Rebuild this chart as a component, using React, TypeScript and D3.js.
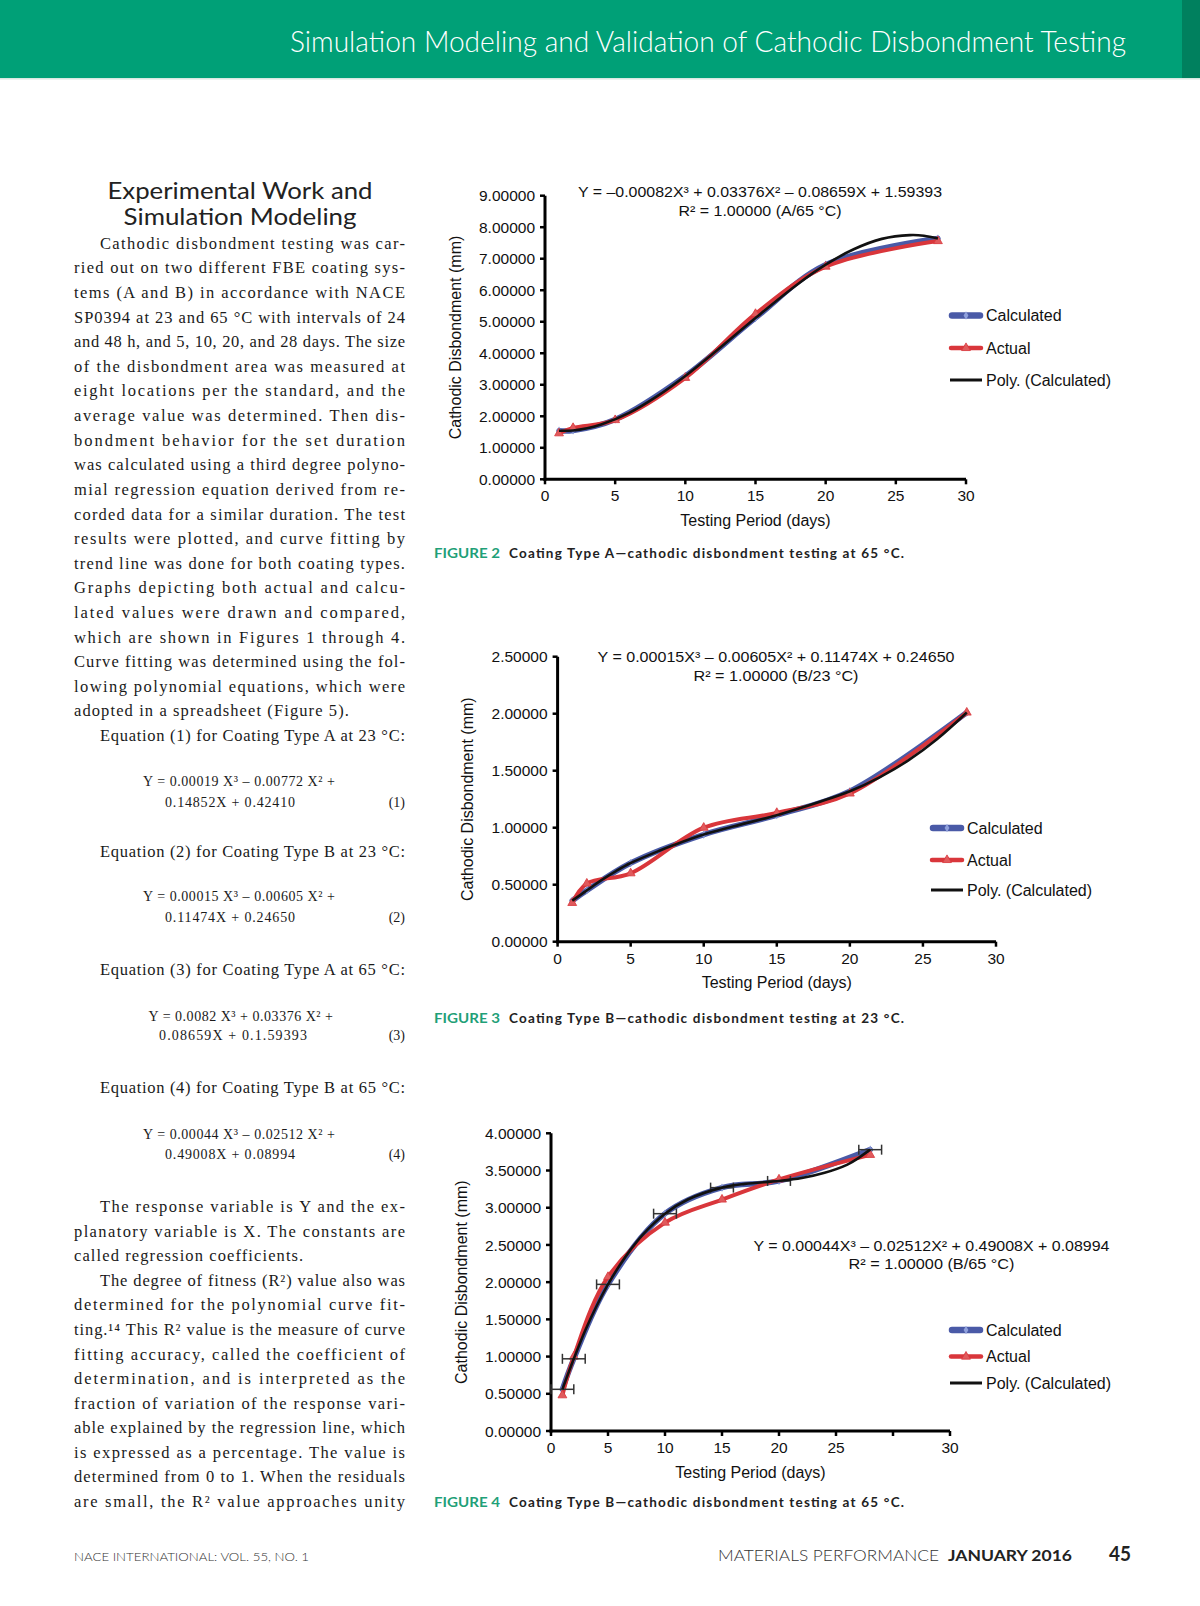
import React from "react";
import * as d3 from "d3";

// sampling days of the test (shared by all figures)
const days = [1, 2, 5, 10, 15, 20, 28];

// Figure 2 - coating A at 65 °C
const calcA65 = [1.54, 1.55, 1.9, 3.28, 5.12, 6.81, 7.64];
const actualA65 = [1.46, 1.63, 1.88, 3.22, 5.25, 6.75, 7.56];
const polyDaysA65 = [1, 2, 3, 4, 6, 8, 10, 12, 15, 18, 20, 22, 24, 26, 27, 28];
const polyA65 = [1.54, 1.55, 1.62, 1.74, 2.11, 2.64, 3.28, 4.0, 5.12, 6.19, 6.81, 7.3, 7.63, 7.75, 7.73, 7.64];
const yTicksA65 = [0, 1, 2, 3, 4, 5, 6, 7, 8, 9];

// Figure 3 - coating B at 23 °C
const calcB23 = [0.36, 0.45, 0.69, 0.94, 1.11, 1.32, 2.01];
const actualB23 = [0.34, 0.51, 0.6, 1.0, 1.13, 1.3, 2.01];
const polyDaysB23 = [1, 2, 3, 4, 5, 7, 8, 10, 12, 15, 18, 20, 22, 24, 26, 28];
const polyB23 = [0.36, 0.45, 0.54, 0.62, 0.69, 0.8, 0.85, 0.94, 1.01, 1.11, 1.23, 1.32, 1.44, 1.59, 1.78, 2.01];
const yTicksB23 = [0, 0.5, 1, 1.5, 2, 2.5];

// Figure 4 - coating B at 65 °C
const calcB65 = [0.56, 0.97, 1.97, 2.92, 3.27, 3.36, 3.78];
const actualB65 = [0.48, 1.0, 2.07, 2.8, 3.11, 3.38, 3.71];
const errB65 = [1, 1, 1, 1, 1, 1, 1];
const polyDaysB65 = [1, 2, 3, 4, 5, 6, 7, 8, 10, 12, 15, 17, 20, 22, 24, 26, 27, 28];
const polyB65 = [0.56, 0.97, 1.35, 1.68, 1.97, 2.22, 2.44, 2.63, 2.92, 3.11, 3.27, 3.32, 3.36, 3.4, 3.47, 3.58, 3.67, 3.78];
const yTicksB65 = [0, 0.5, 1, 1.5, 2, 2.5, 3, 3.5, 4];

const xTicks30 = [0, 5, 10, 15, 20, 25, 30];
const xLabels30 = ["0", "5", "10", "15", "20", "25", "30"];
const xTicks35 = [0, 5, 10, 15, 20, 25, 30, 35];
const xLabels35 = ["0", "5", "10", "15", "20", "25", "", "30"];

const legendLabels = ["Calculated", "Actual", "Poly. (Calculated)"];

const para1 = [
  "Cathodic disbondment testing was car-",
  "ried out on two different FBE coating sys-",
  "tems (A and B) in accordance with NACE",
  "SP0394 at 23 and 65 °C with intervals of 24",
  "and 48 h, and 5, 10, 20, and 28 days. The size",
  "of the disbondment area was measured at",
  "eight locations per the standard, and the",
  "average value was determined. Then dis-",
  "bondment behavior for the set duration",
  "was calculated using a third degree polyno-",
  "mial regression equation derived from re-",
  "corded data for a similar duration. The test",
  "results were plotted, and curve fitting by",
  "trend line was done for both coating types.",
  "Graphs depicting both actual and calcu-",
  "lated values were drawn and compared,",
  "which are shown in Figures 1 through 4.",
  "Curve fitting was determined using the fol-",
  "lowing polynomial equations, which were",
  "adopted in a spreadsheet (Figure 5).",
];

const equations = [
  { head: "Equation (1) for Coating Type A at 23 °C:", l1: "Y = 0.00019 X³ – 0.00772 X² +", l2: "0.14852X + 0.42410", n: "(1)" },
  { head: "Equation (2) for Coating Type B at 23 °C:", l1: "Y = 0.00015 X³ – 0.00605 X² +", l2: "0.11474X + 0.24650", n: "(2)" },
  { head: "Equation (3) for Coating Type A at 65 °C:", l1: "Y = 0.0082 X³ + 0.03376 X² +", l2: "0.08659X + 0.1.59393", n: "(3)" },
  { head: "Equation (4) for Coating Type B at 65 °C:", l1: "Y = 0.00044 X³ – 0.02512 X² +", l2: "0.49008X + 0.08994", n: "(4)" },
];

const para2 = [
  "The response variable is Y and the ex-",
  "planatory variable is X. The constants are",
  "called regression coefficients.",
  "The degree of fitness (R²) value also was",
  "determined for the polynomial curve fit-",
  "ting.¹⁴ This R² value is the measure of curve",
  "fitting accuracy, called the coefficient of",
  "determination, and is interpreted as the",
  "fraction of variation of the response vari-",
  "able explained by the regression line, which",
  "is expressed as a percentage. The value is",
  "determined from 0 to 1. When the residuals",
  "are small, the R² value approaches unity",
];
const para2Indent = [0, 3];
const para2Ragged = [2];

const sans = "'Liberation Sans', Arial, Helvetica, sans-serif";
const serif = "'Liberation Serif', 'Times New Roman', serif";
const lato = "Lato, 'Open Sans', sans-serif";
const blue = "#4a5aa7";
const red = "#d9363b";
const green = "#1fa078";

type ChartCfg = {
  left: number; right: number; top: number; bottom: number;
  xMax: number; yMax: number;
  xTicks: number[]; xLabels: string[]; yTicks: number[];
  calc: number[]; actual: number[]; polyDays: number[]; poly: number[];
  err?: number[];
  eq: string[]; eqX: number; eqY: number; eqW: number[];
  legX: number; legY: number[];
  fig: string; caption: string; capY: number;
};

function Chart({ c }: { c: ChartCfg }) {
  const x = d3.scaleLinear().domain([0, c.xMax]).range([c.left, c.right]);
  const y = d3.scaleLinear().domain([0, c.yMax]).range([c.bottom, c.top]);
  const line = d3
    .line<number[]>()
    .x((d) => x(d[0]))
    .y((d) => y(d[1]))
    .curve(d3.curveCatmullRom.alpha(0.5));
  const calc = days.map((d, i) => [d, c.calc[i]]);
  const act = days.map((d, i) => [d, c.actual[i]]);
  const poly = c.polyDays.map((d, i) => [d, c.poly[i]]);
  const diamond = d3.symbol(d3.symbolDiamond, 20)() || "";
  const tri = d3.symbol(d3.symbolTriangle, 34)() || "";
  const fmt = d3.format(".5f");

  return (
    <g>
      {/* axes */}
      <line x1={c.left} x2={c.left} y1={c.top} y2={c.bottom + 1.5} stroke="#000" strokeWidth={3} />
      <line x1={c.left - 1.5} x2={c.right} y1={c.bottom} y2={c.bottom} stroke="#000" strokeWidth={3} />
      {c.yTicks.map((t) => (
        <g key={"y" + t}>
          <line x1={c.left - 5} x2={c.left} y1={y(t)} y2={y(t)} stroke="#000" strokeWidth={2.5} />
          <text x={c.left - 10} y={y(t)} dy="0.36em" textAnchor="end" fontSize={15.5} fontFamily={sans} fill="#111">
            {fmt(t)}
          </text>
        </g>
      ))}
      {c.xTicks.map((t, i) => (
        <g key={"x" + t}>
          <line x1={x(t)} x2={x(t)} y1={c.bottom} y2={c.bottom + 5} stroke="#000" strokeWidth={2.5} />
          <text x={x(t)} y={c.bottom + 22} textAnchor="middle" fontSize={15.5} fontFamily={sans} fill="#111">
            {c.xLabels[i]}
          </text>
        </g>
      ))}
      <text x={(c.left + c.right) / 2} y={c.bottom + 46.5} textAnchor="middle" fontSize={16} fontFamily={sans} fill="#111">
        Testing Period (days)
      </text>
      <text
        transform={`translate(${c.left - 84.5},${(c.top + c.bottom) / 2}) rotate(-90)`}
        textAnchor="middle"
        fontSize={16}
        fontFamily={sans}
        fill="#111"
      >
        Cathodic Disbondment (mm)
      </text>

      {/* series */}
      <path d={line(calc) || ""} fill="none" stroke={blue} strokeWidth={5.5} strokeLinecap="round" />
      {calc.map((p, i) => (
        <path key={"c" + i} d={diamond} transform={`translate(${x(p[0])},${y(p[1])})`} fill="#7d8fd0" />
      ))}
      <path d={line(act) || ""} fill="none" stroke={red} strokeWidth={4} strokeLinecap="round" />
      {act.map((p, i) => (
        <path key={"a" + i} d={tri} transform={`translate(${x(p[0])},${y(p[1])})`} fill="#e05a5c" stroke={red} strokeWidth={0.8} />
      ))}
      {c.err &&
        calc.map((p, i) => {
          const e = c.err![i];
          const yy = y(p[1]);
          return (
            <g key={"e" + i} stroke="#333" strokeWidth={1.5}>
              <line x1={x(p[0] - e)} x2={x(p[0] + e)} y1={yy} y2={yy} />
              <line x1={x(p[0] - e)} x2={x(p[0] - e)} y1={yy - 5} y2={yy + 5} />
              <line x1={x(p[0] + e)} x2={x(p[0] + e)} y1={yy - 5} y2={yy + 5} />
            </g>
          );
        })}
      <path d={line(poly) || ""} fill="none" stroke="#111" strokeWidth={2.6} />

      {/* trend equation */}
      {c.eq.map((s, i) => (
        <text
          key={"eq" + i}
          x={c.eqX}
          y={c.eqY + i * 18.5}
          textAnchor="middle"
          fontSize={15}
          fontFamily={sans}
          fill="#111"
          textLength={c.eqW[i]}
          lengthAdjust="spacingAndGlyphs"
        >
          {s}
        </text>
      ))}

      {/* legend */}
      {legendLabels.map((lab, i) => {
        const ly = c.legY[i];
        return (
          <g key={"l" + i}>
            {i === 0 && (
              <g>
                <line x1={c.legX + 3} x2={c.legX + 31} y1={ly} y2={ly} stroke={blue} strokeWidth={6.5} strokeLinecap="round" />
                <path d={diamond} transform={`translate(${c.legX + 17},${ly})`} fill="#8fa0dc" />
              </g>
            )}
            {i === 1 && (
              <g>
                <line x1={c.legX + 2} x2={c.legX + 32} y1={ly} y2={ly} stroke={red} strokeWidth={4.5} strokeLinecap="round" />
                <path d={tri} transform={`translate(${c.legX + 17},${ly})`} fill="#e05a5c" stroke={red} strokeWidth={0.8} />
              </g>
            )}
            {i === 2 && <line x1={c.legX + 1} x2={c.legX + 33} y1={ly} y2={ly} stroke="#111" strokeWidth={3} />}
            <text x={c.legX + 37} y={ly + 5.5} fontSize={16} fontFamily={sans} fill="#111">
              {lab}
            </text>
          </g>
        );
      })}

      {/* caption */}
      <text x={434} y={c.capY} fontSize={13.5} fontWeight={700} fontFamily={lato} fill={green} textLength={66} lengthAdjust="spacingAndGlyphs">
        {c.fig}
      </text>
      <text x={509} y={c.capY} fontSize={13.5} fontWeight={700} fontFamily={lato} fill="#222" textLength={395} lengthAdjust="spacing">
        {c.caption}
      </text>
    </g>
  );
}

const fig2: ChartCfg = {
  left: 545, right: 966, top: 195.7, bottom: 479.3, xMax: 30, yMax: 9,
  xTicks: xTicks30, xLabels: xLabels30, yTicks: yTicksA65,
  calc: calcA65, actual: actualA65, polyDays: polyDaysA65, poly: polyA65,
  eq: ["Y = –0.00082X³ + 0.03376X² – 0.08659X + 1.59393", "R² = 1.00000 (A/65 °C)"],
  eqX: 760, eqY: 197, eqW: [364, 163],
  legX: 949, legY: [315.5, 348, 380],
  fig: "FIGURE 2", caption: "Coating Type A—cathodic disbondment testing at 65 °C.", capY: 558,
};

const fig3: ChartCfg = {
  left: 557.6, right: 996, top: 656.7, bottom: 941.7, xMax: 30, yMax: 2.5,
  xTicks: xTicks30, xLabels: xLabels30, yTicks: yTicksB23,
  calc: calcB23, actual: actualB23, polyDays: polyDaysB23, poly: polyB23,
  eq: ["Y = 0.00015X³ – 0.00605X² + 0.11474X + 0.24650", "R² = 1.00000 (B/23 °C)"],
  eqX: 776, eqY: 662, eqW: [357, 165],
  legX: 930, legY: [828, 860, 890],
  fig: "FIGURE 3", caption: "Coating Type B—cathodic disbondment testing at 23 °C.", capY: 1023,
};

const fig4: ChartCfg = {
  left: 551, right: 950, top: 1133.3, bottom: 1431, xMax: 35, yMax: 4,
  xTicks: xTicks35, xLabels: xLabels35, yTicks: yTicksB65,
  calc: calcB65, actual: actualB65, polyDays: polyDaysB65, poly: polyB65, err: errB65,
  eq: ["Y = 0.00044X³ – 0.02512X² + 0.49008X + 0.08994", "R² = 1.00000 (B/65 °C)"],
  eqX: 931.5, eqY: 1250.5, eqW: [356, 166],
  legX: 949, legY: [1330, 1356.6, 1383],
  fig: "FIGURE 4", caption: "Coating Type B—cathodic disbondment testing at 65 °C.", capY: 1507,
};

const COL_L = 74;
const COL_R = 405;
const INDENT = 100;

function BodyLine({ text, y, indent, justify }: { text: string; y: number; indent: boolean; justify: boolean }) {
  const x0 = indent ? INDENT : COL_L;
  return (
    <text
      x={x0}
      y={y}
      fontSize={16.5}
      fontFamily={serif}
      fill="#1a1a1a"
      letterSpacing={justify ? undefined : 1.1}
      textLength={justify ? COL_R - x0 : undefined}
      lengthAdjust="spacing"
    >
      {text}
    </text>
  );
}

export default function App() {
  const lh = 24.62;
  const eqHeadY = [857, 974.6, 1093.4];
  const eqY = [
    [786, 807],
    [901, 922],
    [1020.7, 1040],
    [1138.5, 1159],
  ];
  const eqX = [
    [143, 335, 165, 295],
    [143, 335, 165, 295],
    [148.5, 333, 159, 307],
    [143, 335, 165, 295],
  ];
  return (
    <div style={{ position: "absolute", left: 0, top: 0 }}>
      <svg width={1200} height={1606} viewBox="0 0 1200 1606" style={{ display: "block", background: "#fff" }}>
        {/* header band */}
        <rect x={0} y={0} width={1200} height={78} fill="#00a077" />
        <rect x={1182} y={0} width={18} height={78} fill="#00805e" />
        <rect x={0} y={78} width={1200} height={1.5} fill="#d8e8e2" />
        <text x={290} y={52} fontSize={29} fontWeight={300} fontFamily={lato} fill="#fff" textLength={836} lengthAdjust="spacingAndGlyphs">
          Simulation Modeling and Validation of Cathodic Disbondment Testing
        </text>

        {/* left column */}
        <text x={240} y={198.5} textAnchor="middle" fontSize={23} fontFamily={lato} fill="#222" textLength={265} lengthAdjust="spacingAndGlyphs">
          Experimental Work and
        </text>
        <text x={240} y={224.5} textAnchor="middle" fontSize={23} fontFamily={lato} fill="#222" textLength={233} lengthAdjust="spacingAndGlyphs">
          Simulation Modeling
        </text>
        {para1.map((s, i) => (
          <BodyLine key={"p1" + i} text={s} y={248.7 + i * lh} indent={i === 0} justify={i !== para1.length - 1} />
        ))}
        {equations.map((e, i) => {
          const hy = i === 0 ? 248.7 + 20 * lh : eqHeadY[i - 1];
          const [a, aw, b, bw] = eqX[i];
          return (
            <g key={"eq" + i}>
              <BodyLine text={e.head} y={hy} indent={true} justify={true} />
              <text x={a} y={eqY[i][0]} fontSize={14} fontFamily={serif} fill="#1a1a1a" textLength={aw - a} lengthAdjust="spacing">
                {e.l1}
              </text>
              <text x={b} y={eqY[i][1]} fontSize={14} fontFamily={serif} fill="#1a1a1a" textLength={bw - b} lengthAdjust="spacing">
                {e.l2}
              </text>
              <text x={COL_R} y={eqY[i][1]} textAnchor="end" fontSize={14} fontFamily={serif} fill="#1a1a1a">
                {e.n}
              </text>
            </g>
          );
        })}
        {para2.map((s, i) => (
          <BodyLine
            key={"p2" + i}
            text={s}
            y={1212.2 + i * 24.57}
            indent={para2Indent.includes(i)}
            justify={!para2Ragged.includes(i)}
          />
        ))}

        {/* figures */}
        <Chart c={fig2} />
        <Chart c={fig3} />
        <Chart c={fig4} />

        {/* footer */}
        <text x={74} y={1561} fontSize={12.5} fontWeight={300} fontFamily={lato} fill="#333" textLength={235} lengthAdjust="spacingAndGlyphs">
          NACE INTERNATIONAL: VOL. 55, NO. 1
        </text>
        <text x={718} y={1561} fontSize={15.5} fontWeight={300} fontFamily={lato} fill="#333" textLength={221} lengthAdjust="spacingAndGlyphs">
          MATERIALS PERFORMANCE
        </text>
        <text x={948} y={1561} fontSize={15} fontWeight={700} fontFamily={lato} fill="#222" textLength={124} lengthAdjust="spacingAndGlyphs">
          JANUARY 2016
        </text>
        <text x={1109} y={1561} fontSize={20} fontWeight={700} fontFamily={lato} fill="#222" textLength={22} lengthAdjust="spacingAndGlyphs">
          45
        </text>
      </svg>
    </div>
  );
}
